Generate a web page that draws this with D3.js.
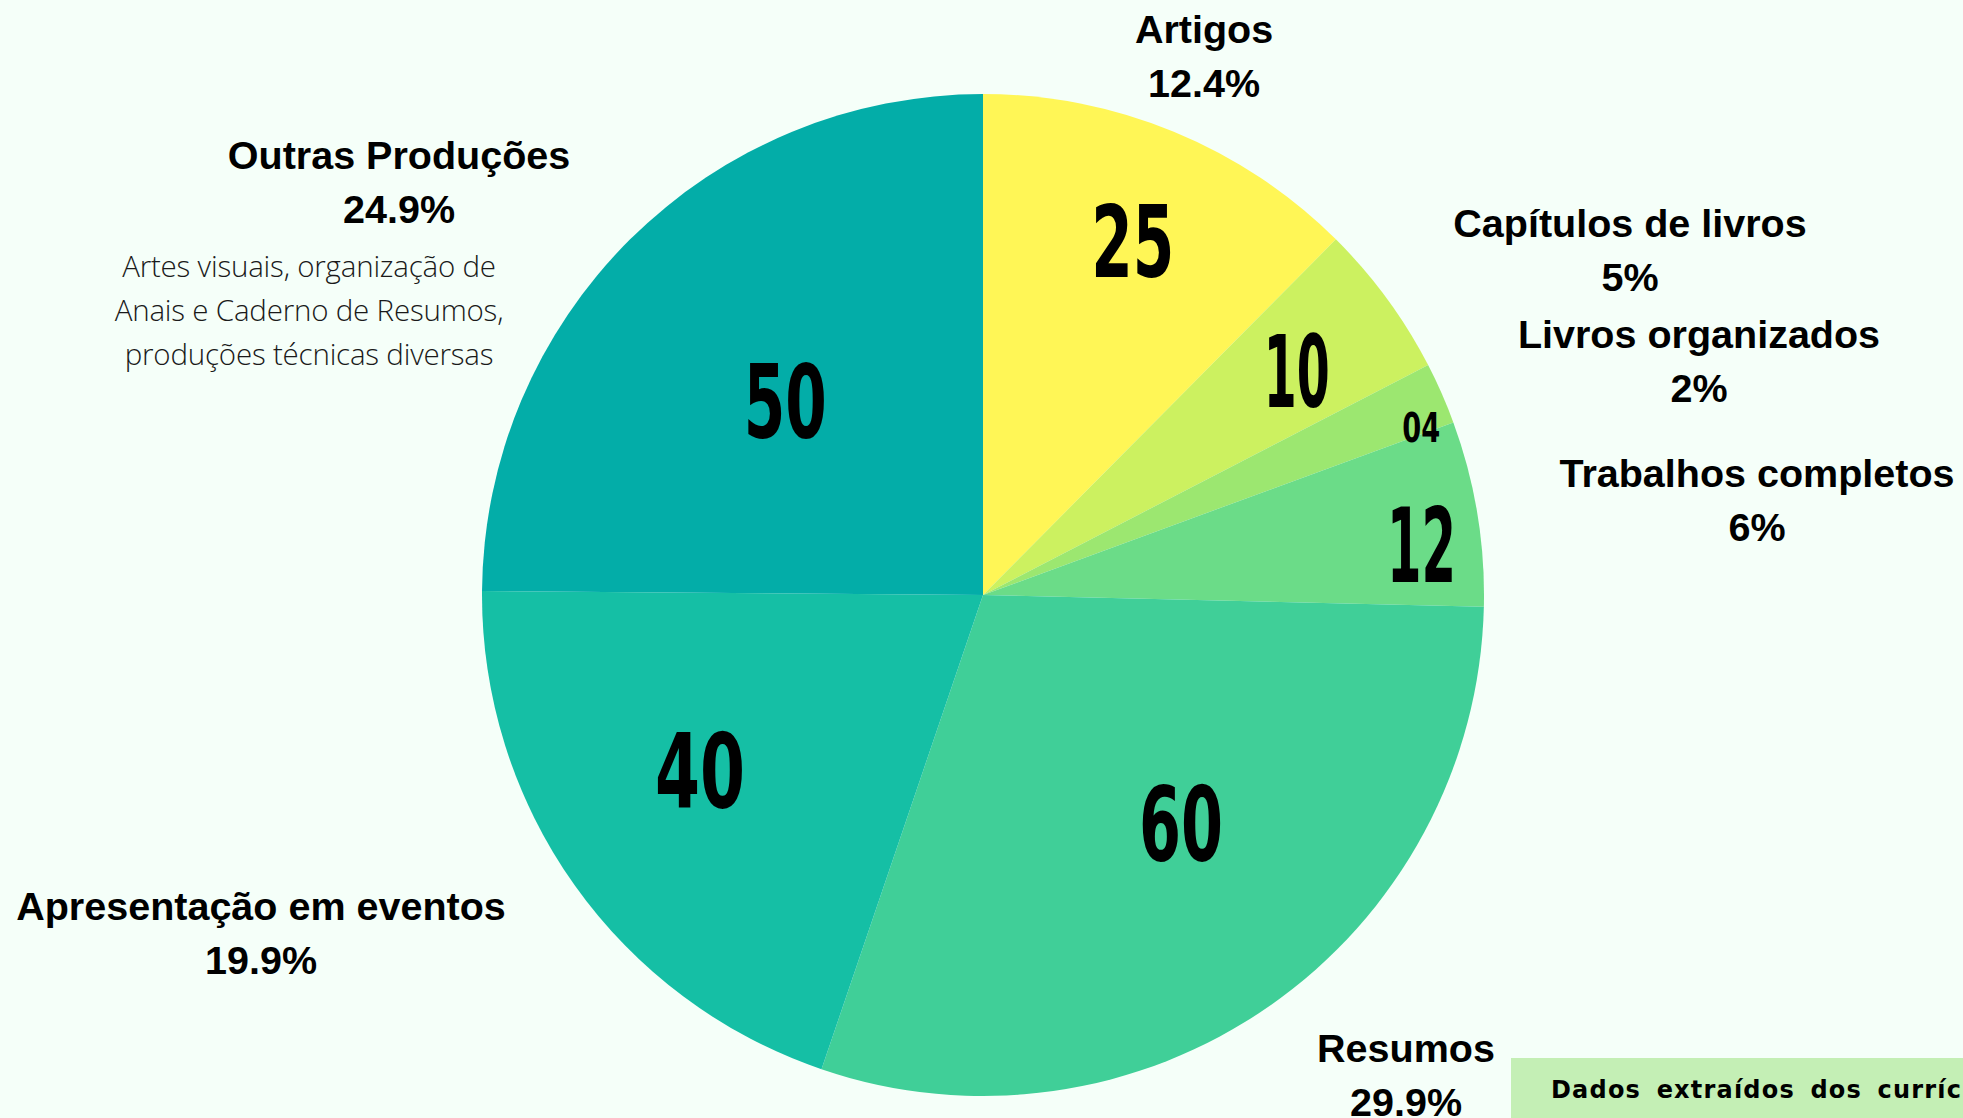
<!DOCTYPE html>
<html>
<head>
<meta charset="utf-8">
<script src="https://cdn.jsdelivr.net/npm/d3@7"></script>
<style>
  body { margin: 0; background: #f5fff9; overflow: hidden; }
  svg { display: block; }
  .name, .pct { font-family: "Liberation Sans", Arial, sans-serif; font-weight: bold; font-size: 39.5px; fill: #000; }
  .desc { font-family: "Open Sans", "Lato", sans-serif; font-weight: 300; font-size: 29.5px; fill: #1a1a1a; letter-spacing: -0.2px; }
  .val { font-family: "DejaVu Sans Condensed", "DejaVu Sans", sans-serif; font-weight: bold; fill: #000; }
  .note { font-family: "DejaVu Sans", sans-serif; font-weight: bold; font-size: 24px; fill: #000; letter-spacing: 1.2px; word-spacing: 6px; }
</style>
</head>
<body>
<svg></svg>
<script>
var width = 1963;
var height = 1118;

// data
var categories = ['Artigos', 'Capítulos de livros', 'Livros organizados', 'Trabalhos completos',
                  'Resumos', 'Apresentação em eventos', 'Outras Produções'];
var values = [25, 10, 4, 12, 60, 40, 50];
var valueLabels = ['25', '10', '04', '12', '60', '40', '50'];
var colors = ['#fff656', '#ccf160', '#9ce770', '#6bdc88', '#40cf98', '#15bfa5', '#03ada8'];
var descLines = ['Artes visuais, organização de', 'Anais e Caderno de Resumos,', 'produções técnicas diversas'];

// layout tweaks for the numbers inside the slices
var valRadius = [0.768, 0.770, 0.937, 0.881, 0.603, 0.665, 0.553];
var valAngleShift = [0.5, 0.7, 2.7, 2.8, -6, 3.5, -0.8];
var valCap = [73, 73, 30, 75, 75, 75, 74];
var valWidth = [83, 66, 38, 69, 84, 90, 83];

// outer label anchors (name baseline)
var namePos = [[1204, 43], [1630, 237], [1699, 348], [1757, 487], [1406, 1062], [261, 920], [399, 169]];

var svg = d3.select('svg')
    .attr('width', width)
    .attr('height', height);

var cx = 983, cy = 595, radius = 501;

var pie = d3.pie().sort(null).value(d => d)
    .startAngle(0).endAngle(2 * Math.PI);
var arcs = pie(values);
var arc = d3.arc().innerRadius(0).outerRadius(radius);

var g = svg.append('g')
    .attr('transform', `translate(${cx},${cy})`);

g.selectAll('path').data(arcs)
  .enter().append('path')
    .attr('d', arc)
    .attr('fill', (d, i) => colors[i]);

// numbers inside slices
var midAngle = (d, i) => (d.startAngle + d.endAngle) / 2 + valAngleShift[i] * Math.PI / 180;

g.selectAll('text.val').data(arcs)
  .enter().append('text')
    .attr('class', 'val')
    .attr('font-size', (d, i) => valCap[i] / 0.729)
    .attr('textLength', (d, i) => valWidth[i])
    .attr('lengthAdjust', 'spacingAndGlyphs')
    .attr('x', (d, i) => Math.sin(midAngle(d, i)) * radius * valRadius[i] - valWidth[i] / 2)
    .attr('y', (d, i) => -Math.cos(midAngle(d, i)) * radius * valRadius[i] + valCap[i] / 2)
    .text((d, i) => valueLabels[i]);

// outer labels: name + percentage
var total = d3.sum(values);
var fmt = v => {
  var p = v / total * 100;
  return (Math.round(p * 10) / 10 === Math.round(p) ? Math.round(p) : p.toFixed(1)) + '%';
};

var lab = svg.selectAll('g.lab').data(categories)
  .enter().append('g')
    .attr('class', 'lab')
    .attr('transform', (d, i) => `translate(${namePos[i][0]},${namePos[i][1]})`);

lab.append('text')
    .attr('class', 'name')
    .attr('text-anchor', 'middle')
    .text(d => d);

lab.append('text')
    .attr('class', 'pct')
    .attr('text-anchor', 'middle')
    .attr('y', 54)
    .text((d, i) => fmt(values[i]));

// description under "Outras Produções"
svg.append('g')
    .attr('transform', 'translate(309,277)')
  .selectAll('text').data(descLines)
  .enter().append('text')
    .attr('class', 'desc')
    .attr('text-anchor', 'middle')
    .attr('y', (d, i) => i * 44)
    .text(d => d);

// source note box
svg.append('rect')
    .attr('x', 1511)
    .attr('y', 1058)
    .attr('width', width - 1511)
    .attr('height', height - 1058)
    .attr('fill', '#c4efb5');

svg.append('text')
    .attr('class', 'note')
    .attr('x', 1551)
    .attr('y', 1098)
    .text('Dados extraídos dos currículos Lattes');
</script>
</body>
</html>
